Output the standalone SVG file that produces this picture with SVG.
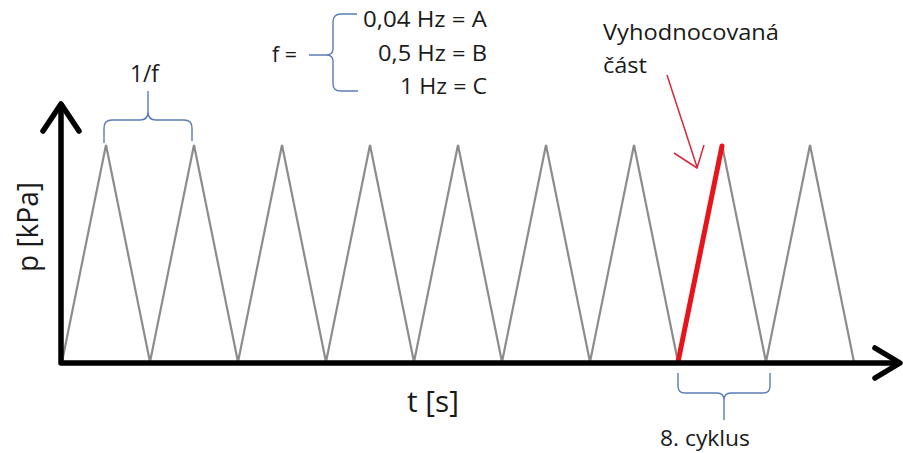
<svg xmlns="http://www.w3.org/2000/svg" width="903" height="453" viewBox="0 0 903 453">
<style>
.t{font-family:"Open Sans","Liberation Sans",sans-serif;fill:#1a1a1a}
.wave{fill:none;stroke:#8c8c8c;stroke-width:2.2;stroke-linejoin:miter}
.axis{fill:none;stroke:#000;stroke-width:5.5;stroke-linecap:round;stroke-linejoin:round}
.brace{fill:none;stroke:#5b7cb6;stroke-width:1.4}
</style>
<rect width="903" height="453" fill="#fff"/>
<g id="connectors">
<path class="wave" d="M62,362 L106,145 L150,362 L194,145 L238,362 L282,145 L326,362 L370,145 L414,362 L458,145 L502,362 L546,145 L590,362 L634,145 L678,362 M722,145 L766,362 L810,145 L854,362"/>
<path id="red-segment" d="M678,362 L722,146" fill="none" stroke="#e8141c" stroke-width="5" stroke-linecap="round"/>
<path class="brace" d="M104,143 V128 Q104,120 112,120 H140 Q148,120 148,112 V91 M148,112 Q148,120 156,120 H184 Q192,120 192,128 V141"/>
<path class="brace" d="M357,14 H341 Q333,14 333,22 V49 Q333,55 326,55 H309 M326,55 Q333,55 333,61 V84 Q333,91 341,91 H358"/>
<path class="brace" d="M678,373 V386 Q678,393 685,393 H717 Q724,393 724,400 V420 M724,400 Q724,393 731,393 H763 Q770,393 770,386 V373"/>
<path d="M667,75 L697,167 M674,153 L697,168 L704,145" fill="none" stroke="#d8283c" stroke-width="1.5"/>
</g>
<g id="axes">
<path class="axis" d="M61,105 V363 H898"/>
<path class="axis" d="M43,131 L61,104 L79,131"/>
<path class="axis" d="M875,348 L900,363 L875,378"/>
</g>
<g id="label-yaxis"><text class="t" transform="translate(38,272) rotate(-90)" font-size="30" textLength="90" lengthAdjust="spacingAndGlyphs">p [kPa]</text></g>
<g id="label-xaxis"><text class="t" x="407" y="412" font-size="29" textLength="52" lengthAdjust="spacingAndGlyphs">t [s]</text></g>
<g id="label-period"><text class="t" x="130" y="82" font-size="24" textLength="29" lengthAdjust="spacingAndGlyphs">1/f</text></g>
<g id="label-f"><text class="t" x="272" y="62" font-size="22" textLength="25" lengthAdjust="spacingAndGlyphs">f =</text></g>
<g id="freq-list">
<text class="t" x="363" y="27" font-size="22" textLength="124" lengthAdjust="spacingAndGlyphs">0,04 Hz = A</text>
<text class="t" x="378" y="61" font-size="22" textLength="109" lengthAdjust="spacingAndGlyphs">0,5 Hz = B</text>
<text class="t" x="400" y="94" font-size="22" textLength="87" lengthAdjust="spacingAndGlyphs">1 Hz = C</text>
</g>
<g id="label-evaluated">
<text class="t" x="603" y="40" font-size="22" textLength="176" lengthAdjust="spacingAndGlyphs">Vyhodnocovaná</text>
<text class="t" x="603" y="73" font-size="22" textLength="44" lengthAdjust="spacingAndGlyphs">část</text>
</g>
<g id="label-cycle"><text class="t" x="660" y="446" font-size="22" textLength="90" lengthAdjust="spacingAndGlyphs">8. cyklus</text></g>
</svg>
